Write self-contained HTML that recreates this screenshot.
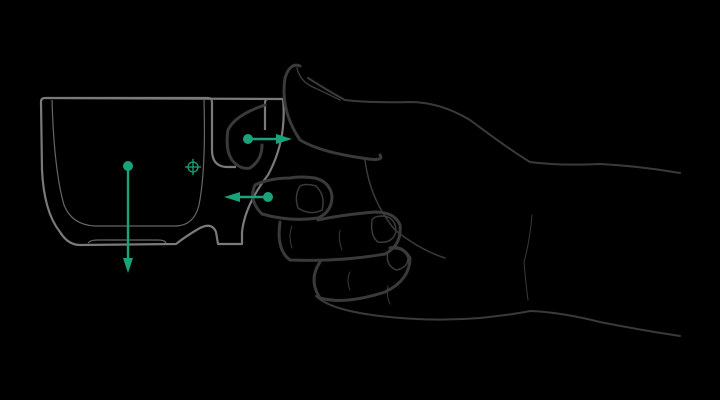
<!DOCTYPE html>
<html><head><meta charset="utf-8"><style>
html,body{margin:0;padding:0;background:#000;}
svg{display:block;}
</style></head><body>
<svg width="720" height="400" viewBox="0 0 720 400" xmlns="http://www.w3.org/2000/svg">
<rect width="720" height="400" fill="#000"/>
<g fill="none" stroke="#7a7a7a" stroke-width="2.2" stroke-linejoin="round">
  <path d="M45,98 L208,98 Q212,98 212,102 L212,150 Q212,166 226,167 L236,167 M283,99 L268,99 Q265,99 265,103 L265,130 M283,99 Q287,140 268,175 Q245,205 242,232 L242,244 L218,244 L216,232 Q212,222 200,228 Q186,236 176,244 L80,245 Q68,245 60,232 Q44,212 42,170 L41,102 Q41,98 45,98 Z"/>
  <path stroke-width="1.2" stroke="#666" d="M52,100 Q54,170 64,205 Q72,225 95,226 L175,226 Q194,226 199,205 Q206,170 204,100"/>
  <path stroke-width="1.2" stroke="#666" d="M88,243 Q90,240 98,240 L158,240 Q165,240 166,243"/>
</g>
<g fill="none" stroke="#3a3a3a" stroke-width="3" stroke-linecap="round" stroke-linejoin="round">
  <path d="M300,66 Q290,62 285,78 Q280,110 300,140 Q320,152 362,158 Q385,162 380,155"/>
  <path stroke-width="1.5" d="M297,68 Q300,82 315,88 Q330,95 340,100"/>
  <path stroke-width="2" d="M308,78 Q330,92 345,100 Q370,103 410,102 Q440,102 470,120 Q510,150 530,162 Q560,166 600,164 Q640,166 680,173"/>
  <path d="M265,105 Q235,115 228,130 Q225,150 232,160 Q240,170 250,168 Q262,160 262,145"/>
  <path d="M290,178 Q270,178 255,185 Q248,200 262,214 Q290,222 318,218 Q332,212 332,196 Q330,182 315,178 Q300,176 290,178"/>
  <path stroke-width="1.5" d="M300,186 Q294,196 298,208 Q310,216 322,210 Q326,196 316,186 Q306,183 300,186"/>
  <path d="M280,222 Q276,250 290,260 Q340,262 385,254 Q402,245 400,225 Q395,212 375,212 Q340,215 318,220"/>
  <path stroke-width="1.5" d="M372,220 Q370,236 378,242 Q392,244 396,232 Q396,218 384,216 Q374,216 372,220"/>
  <path d="M320,262 Q308,280 320,298 Q345,305 385,292 Q410,280 410,258 Q402,245 390,248"/>
  <path stroke-width="1.5" d="M388,252 Q385,265 396,270 Q408,268 408,258 Q404,248 395,249"/>
  <path stroke-width="1.5" d="M365,160 Q370,200 395,230 Q420,250 445,258"/>
  <path stroke-width="2" d="M316,296 Q330,310 380,316 Q430,322 480,318 Q510,315 530,311 Q560,312 600,322 Q640,330 680,336"/>
  <path stroke-width="1" d="M532,215 Q530,240 524,262 Q526,285 528,300"/>
  <path stroke-width="1" d="M340,230 Q338,240 342,250 M350,272 Q346,280 350,290 M388,286 Q386,296 390,304 M292,226 Q288,236 292,248"/>
</g>
<g fill="#1aa37a" stroke="#1aa37a" stroke-width="2.4">
  <g>
    <circle cx="128" cy="166" r="5" stroke="none"/>
    <line x1="128" y1="166" x2="128" y2="264"/>
    <path d="M123,258 L128,273 L133,258 Z" stroke="none"/>
  </g>
  <g>
    <circle cx="248" cy="139" r="5" stroke="none"/>
    <line x1="248" y1="139" x2="282" y2="139"/>
    <path d="M276,134 L292,139 L276,144 Z" stroke="none"/>
  </g>
  <g>
    <circle cx="268" cy="197" r="5" stroke="none"/>
    <line x1="268" y1="197" x2="234" y2="197"/>
    <path d="M240,192 L224,197 L240,202 Z" stroke="none"/>
  </g>
  <g fill="none" stroke-width="1.3">
    <circle cx="193" cy="167" r="5"/>
    <line x1="185" y1="167" x2="201" y2="167"/>
    <line x1="193" y1="159" x2="193" y2="175"/>
  </g>
</g>
</svg>
</body></html>
